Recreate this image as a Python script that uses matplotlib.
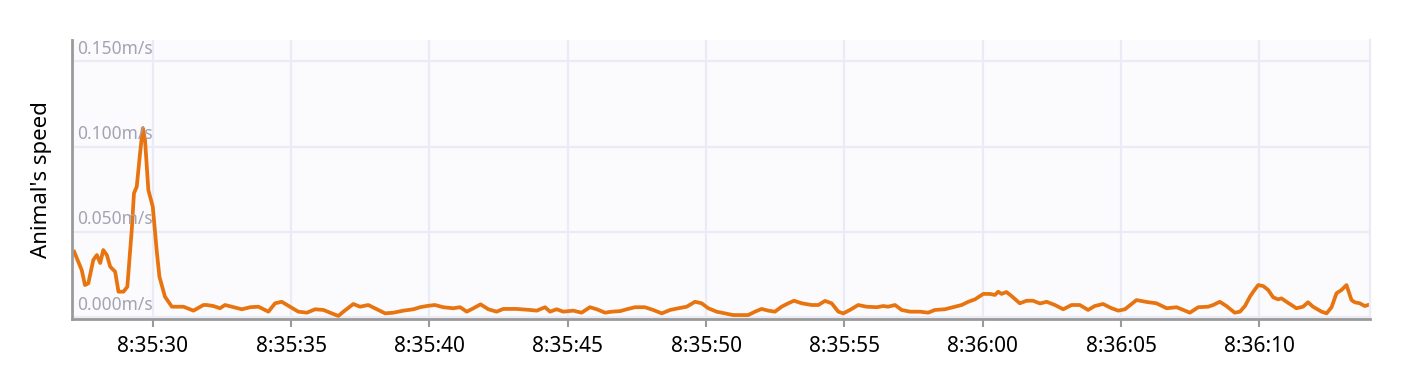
import matplotlib
matplotlib.use("Agg")
import matplotlib.pyplot as plt
from matplotlib.ticker import MultipleLocator, FuncFormatter

plt.rcParams['font.family'] = ['Noto Sans', 'DejaVu Sans']

# seconds after 8:35:00
secs = [27.16, 27.43, 27.55, 27.67, 27.85, 27.98, 28.10, 28.21, 28.34, 28.46,
        28.64, 28.76, 28.94, 29.08, 29.24, 29.32, 29.42, 29.54, 29.64, 29.72,
        29.84, 30.00, 30.14, 30.24, 30.44, 30.69, 31.11, 31.47, 31.83, 31.95,
        32.19, 32.43, 32.61, 32.86, 33.22, 33.52, 33.82, 34.18, 34.42, 34.66,
        34.96, 35.26, 35.57, 35.87, 36.17, 36.47, 36.71, 36.89, 37.25, 37.49,
        37.79, 38.10, 38.40, 38.70, 39.06, 39.42, 39.66, 39.90, 40.20, 40.50,
        40.86, 41.11, 41.35, 41.59, 41.85, 42.13, 42.43, 42.67, 43.16, 43.64,
        43.88, 44.18, 44.36, 44.60, 44.84, 45.20, 45.50, 45.80, 46.05, 46.35,
        46.59, 46.89, 47.13, 47.43, 47.79, 48.09, 48.40, 48.70, 49.00, 49.30,
        49.60, 49.84, 50.08, 50.38, 50.68, 50.98, 51.29, 51.52, 51.77, 52.01,
        52.25, 52.49, 52.73, 52.97, 53.18, 53.46, 53.82, 54.06, 54.30, 54.54,
        54.78, 54.96, 55.20, 55.50, 55.80, 56.17, 56.40, 56.58, 56.83, 57.07,
        57.37, 57.73, 58.03, 58.27, 58.63, 58.93, 59.24, 59.48, 59.72, 60.02,
        60.26, 60.44, 60.56, 60.68, 60.86, 61.04, 61.34, 61.59, 61.82, 62.07,
        62.31, 62.61, 62.91, 63.21, 63.51, 63.81, 64.05, 64.35, 64.66, 64.90,
        65.14, 65.56, 65.92, 66.28, 66.65, 67.01, 67.49, 67.79, 68.15, 68.33,
        68.57, 68.81, 69.11, 69.30, 69.48, 69.66, 69.78, 69.96, 70.14, 70.32,
        70.50, 70.68, 70.80, 70.98, 71.34, 71.58, 71.76, 71.94, 72.25, 72.43,
        72.61, 72.79, 72.97, 73.15, 73.33, 73.45, 73.63, 73.81, 73.93]

speed = [0.0384, 0.0277, 0.0189, 0.0199, 0.0336, 0.0365, 0.0318, 0.0394, 0.0365, 0.0297,
         0.0267, 0.0150, 0.0150, 0.0179, 0.0512, 0.0727, 0.0765, 0.0961, 0.1108, 0.1039,
         0.0746, 0.0648, 0.0394, 0.0238, 0.0121, 0.0062, 0.0062, 0.0039, 0.0072, 0.0072,
         0.0066, 0.0053, 0.0072, 0.0062, 0.0047, 0.0059, 0.0062, 0.0033, 0.0082, 0.0091,
         0.0062, 0.0033, 0.0027, 0.0047, 0.0043, 0.0023, 0.0008, 0.0033, 0.0078, 0.0062,
         0.0072, 0.0047, 0.0023, 0.0027, 0.0039, 0.0047, 0.0059, 0.0066, 0.0072, 0.0059,
         0.0053, 0.0059, 0.0033, 0.0053, 0.0076, 0.0047, 0.0033, 0.0049, 0.0049, 0.0043,
         0.0039, 0.0059, 0.0033, 0.0047, 0.0033, 0.0039, 0.0027, 0.0059, 0.0047, 0.0027,
         0.0033, 0.0036, 0.0047, 0.0059, 0.0059, 0.0043, 0.0023, 0.0043, 0.0053, 0.0062,
         0.0091, 0.0082, 0.0053, 0.0033, 0.0023, 0.0013, 0.0013, 0.0013, 0.0033, 0.0049,
         0.0039, 0.0033, 0.0062, 0.0082, 0.0097, 0.0082, 0.0072, 0.0072, 0.0096, 0.0082,
         0.0033, 0.0023, 0.0043, 0.0072, 0.0062, 0.0059, 0.0066, 0.0062, 0.0072, 0.0043,
         0.0033, 0.0033, 0.0027, 0.0043, 0.0047, 0.0059, 0.0072, 0.0091, 0.0105, 0.0137,
         0.0137, 0.0131, 0.0150, 0.0137, 0.0148, 0.0125, 0.0082, 0.0097, 0.0097, 0.0081,
         0.0091, 0.0072, 0.0047, 0.0072, 0.0072, 0.0043, 0.0066, 0.0078, 0.0053, 0.0039,
         0.0047, 0.0101, 0.0090, 0.0082, 0.0053, 0.0059, 0.0027, 0.0059, 0.0062, 0.0072,
         0.0091, 0.0066, 0.0027, 0.0033, 0.0066, 0.0121, 0.0150, 0.0189, 0.0183, 0.0160,
         0.0117, 0.0105, 0.0111, 0.0091, 0.0053, 0.0062, 0.0088, 0.0062, 0.0033, 0.0023,
         0.0059, 0.0141, 0.0160, 0.0189, 0.0101, 0.0088, 0.0082, 0.0066, 0.0072]

y_ticks = [0.000, 0.050, 0.100, 0.150]

fig = plt.figure(figsize=(14.2, 3.72), dpi=100)
ax = fig.add_axes([72/1420, 1 - 319/372, (1370 - 72)/1420, (319 - 40)/372])
ax.set_facecolor('#fbfbfe')

ax.plot(secs, speed, color='#e8740f', lw=2.7, solid_joinstyle='round')

ax.set_xlim(27.08, 74.0)
ax.set_ylim(-0.001, 0.1625)

ax.xaxis.set_major_locator(MultipleLocator(5))
ax.xaxis.set_major_formatter(FuncFormatter(
    lambda s, p: "8:%d:%02d" % (35 + int(round(s)) // 60, int(round(s)) % 60)))
ax.set_yticks(y_ticks)
ax.set_yticklabels([])
ax.tick_params(axis='y', length=0)
ax.tick_params(axis='x', length=6, width=1.5, color='#9a9a9a', labelsize=15, pad=6)

ax.grid(True, color='#ebebf6', lw=1.6)
ax.set_axisbelow(True)

# value labels sit inside the plot, just above their gridline
for v in y_ticks:
    ax.text(0.004, v + 0.0022, "%.3fm/s" % v, transform=ax.get_yaxis_transform(),
            ha='left', va='bottom', fontsize=12.5, color='#a3a3b3')

ax.spines['top'].set_visible(False)
ax.spines['right'].set_color('#ebebf6')
ax.spines['right'].set_linewidth(1.6)
for side in ['left', 'bottom']:
    ax.spines[side].set_color('#9a9a9a')
    ax.spines[side].set_linewidth(2)

ax.set_ylabel("Animal's speed", fontsize=16, labelpad=11)

fig.savefig("out.png", dpi=100)
